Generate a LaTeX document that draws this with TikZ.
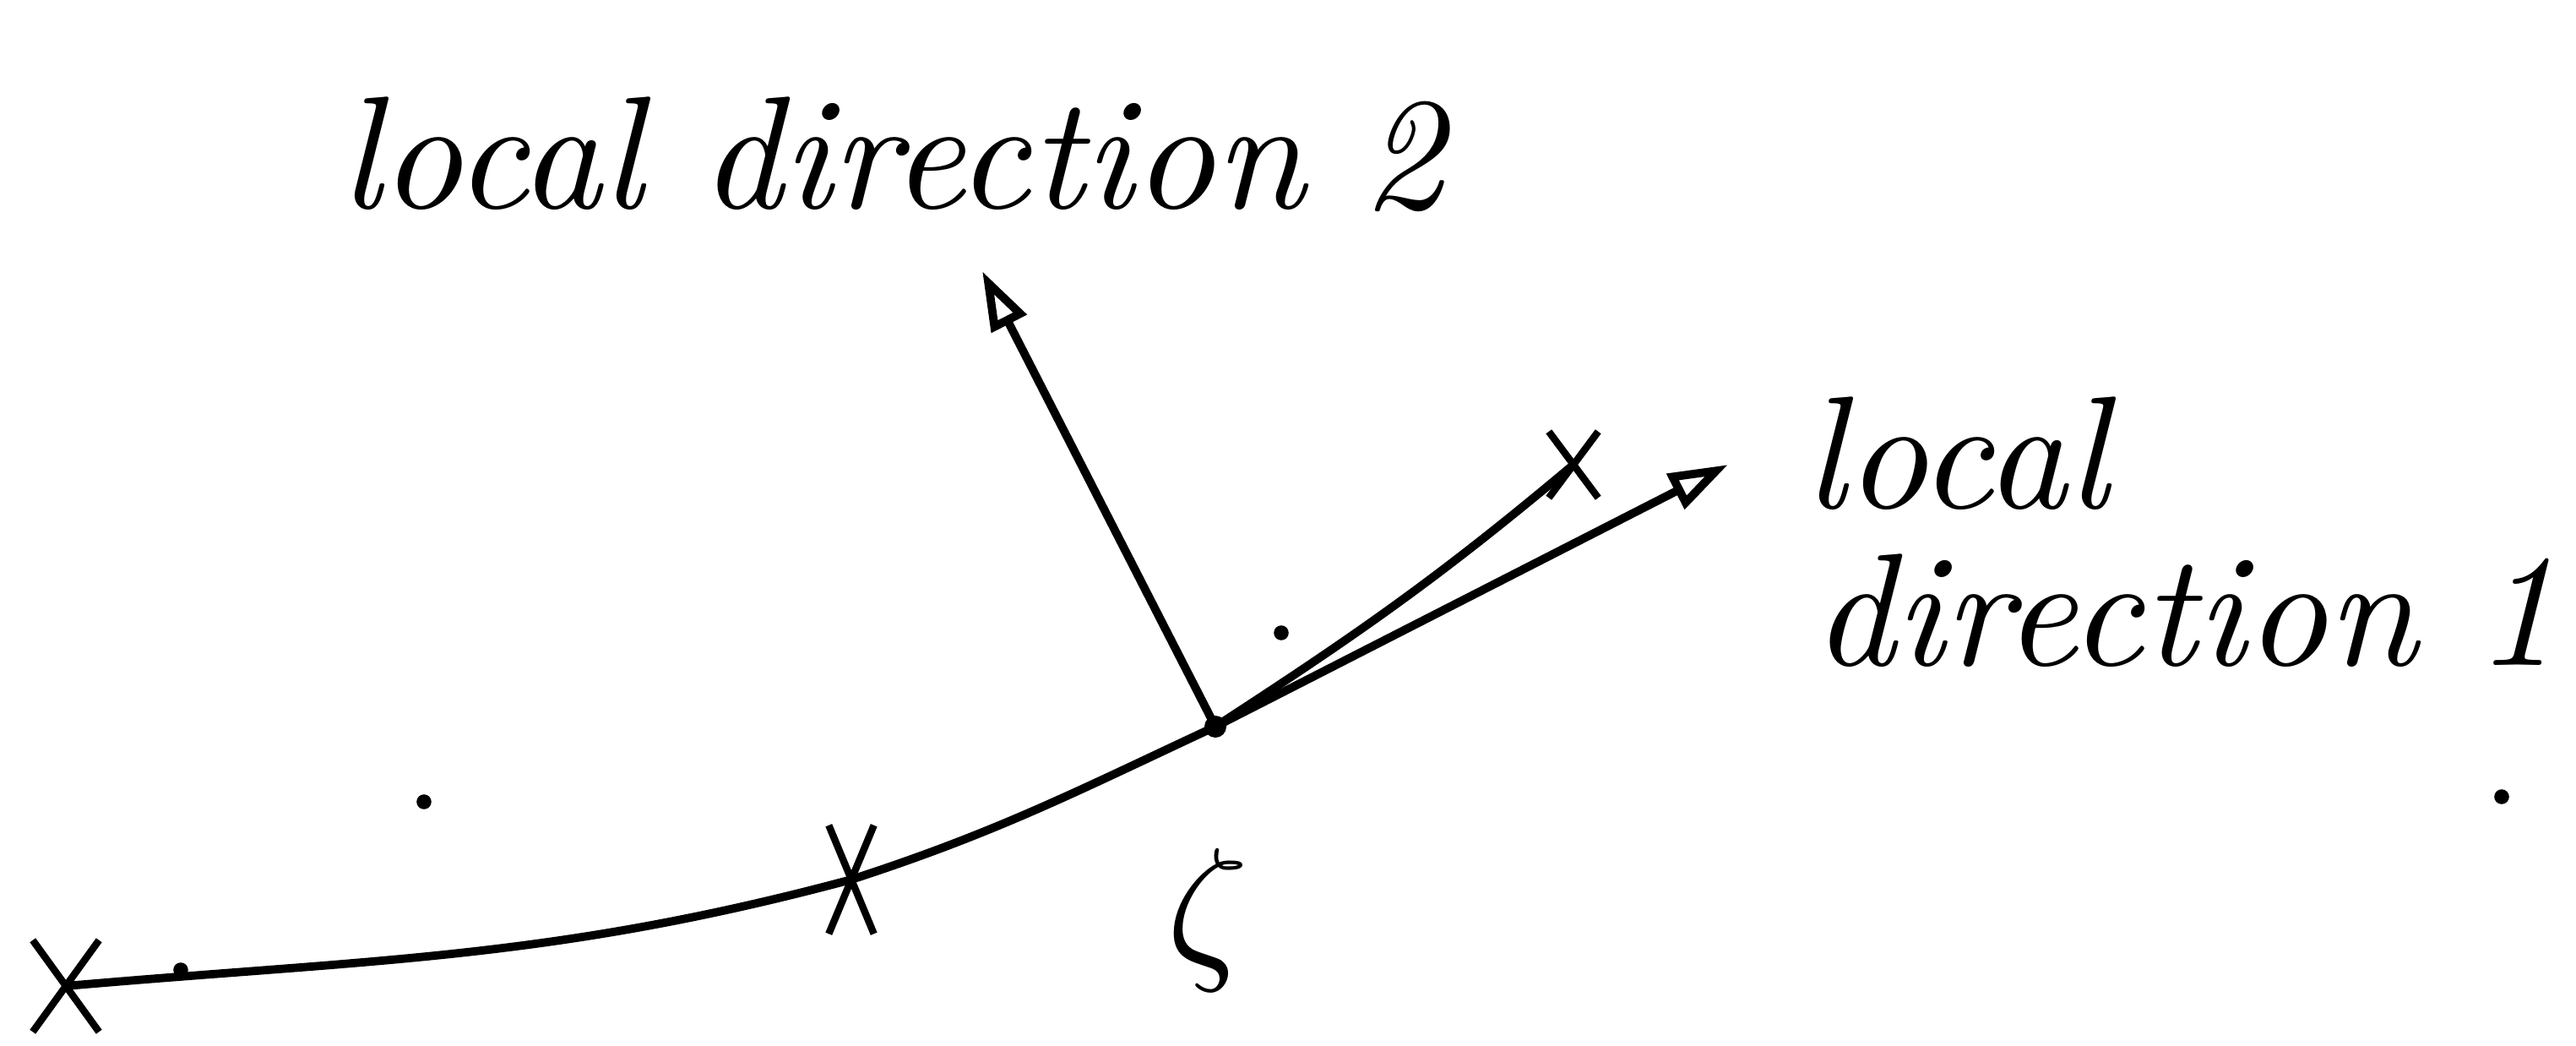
\documentclass[tikz,border=0pt]{standalone}
\usetikzlibrary{arrows.meta, shapes.misc}
\tikzstyle{crossmk}=[cross out, draw, line width=2.4pt, minimum width=0.7cm, minimum height=1.0cm, inner sep=0pt]
\tikzstyle{hand}=[font=\itshape, scale=5.4, inner sep=0pt]
\tikzstyle{speck}=[circle, fill, inner sep=0pt, minimum size=5pt]

\begin{document}
\begin{tikzpicture}[line width=2.8pt, >={Triangle[open, length=0.7cm, width=0.45cm]}]
    \useasboundingbox (0,0) rectangle (30.5,12.37);
    \coordinate (p0) at (0.78,0.70);
    \coordinate (p1) at (10.08,1.96);
    \coordinate (z) at (14.39,3.77);
    \coordinate (p3) at (18.63,6.87);
    \coordinate (d1) at (20.46,6.87);
    \coordinate (d2) at (11.63,9.16);
    \draw (p0) to[out=5,in=195] (p1) to[out=18,in=205] (z) to[out=33,in=220] (p3);
    \draw[->] (z) -- (d1);
    \draw[->] (z) -- (d2);
    \fill (z) circle (0.13);
    \node[crossmk] (x0) at (p0) {};
    \node[crossmk, minimum width=0.45cm, minimum height=1.2cm] (x1) at (p1) {};
    \node[crossmk, minimum width=0.5cm, minimum height=0.7cm] (x3) at (p3) {};
    \node[hand] (zl) at (14.30,1.48) {$\zeta$};
    \node[hand, anchor=base] (lab2) at (10.56,9.9) {local direction 2};
    \node[hand, anchor=base west] (lab1a) at (21.1,6.35) {local};
    \node[hand, anchor=base west] (lab1b) at (21.2,4.5) {direction 1};
    \node[speck] (s0) at (2.14,0.89) {};
    \node[speck] (s1) at (5.02,2.88) {};
    \node[speck] (s2) at (15.17,4.88) {};
    \node[speck] (s3) at (29.62,2.94) {};
\end{tikzpicture}
\end{document}
